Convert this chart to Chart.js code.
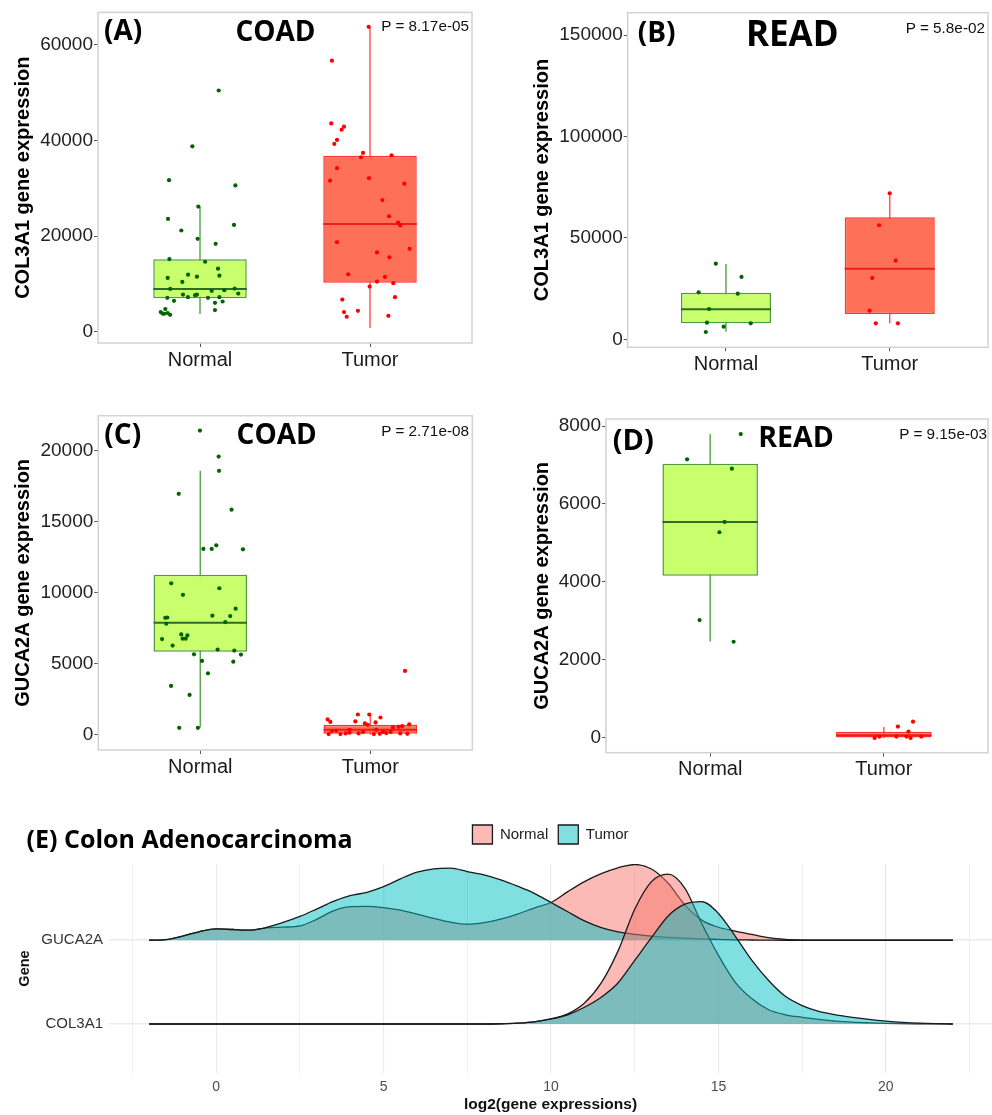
<!DOCTYPE html>
<html lang="en">
<head>
<meta charset="UTF-8">
<title>COL3A1 and GUCA2A expression</title>
<style>
  body { margin: 0; background: #fff; }
  #page { position: relative; width: 992px; height: 1115px; overflow: hidden; font-family: "Liberation Sans", Arial, sans-serif; }
  .panel { position: absolute; }
  .tag, .name { position: absolute; font-family: "Open Sans", sans-serif; font-weight: 700; color: #000; line-height: 1; white-space: nowrap; }
  .tag { transform: translate(0, -50%); }
  .name { transform: translate(-50%, -50%); }
  .pval { position: absolute; font-size: 15.3px; color: #111; line-height: 1; white-space: nowrap; transform: translate(-100%, -50%); }
</style>
</head>
<body>
<div id="page">
  <div class="panel" style="left:0;top:0;width:480px;height:385px"><canvas id="chartA"></canvas></div>
  <div class="panel" style="left:500px;top:0;width:492px;height:385px"><canvas id="chartB"></canvas></div>
  <div class="panel" style="left:0;top:400px;width:480px;height:385px"><canvas id="chartC"></canvas></div>
  <div class="panel" style="left:500px;top:400px;width:492px;height:385px"><canvas id="chartD"></canvas></div>
  <div class="panel" style="left:0;top:800px;width:992px;height:315px"><canvas id="chartE"></canvas></div>

  <div class="tag" style="left:104px;top:29px;font-size:28px">(A)</div>
  <div class="name" style="left:275.5px;top:30px;font-size:28px">COAD</div>
  <div class="pval" style="left:469px;top:26px">P = 8.17e-05</div>

  <div class="tag" style="left:637.7px;top:31px;font-size:28px">(B)</div>
  <div class="name" style="left:792.3px;top:32.3px;font-size:35px">READ</div>
  <div class="pval" style="left:985px;top:28.3px">P = 5.8e-02</div>

  <div class="tag" style="left:104.3px;top:432.5px;font-size:28px">(C)</div>
  <div class="name" style="left:276.7px;top:433.3px;font-size:28px">COAD</div>
  <div class="pval" style="left:469px;top:431.3px">P = 2.71e-08</div>

  <div class="tag" style="left:612.7px;top:437.5px;font-size:29px">(D)</div>
  <div class="name" style="left:796px;top:436px;font-size:28.5px">READ</div>
  <div class="pval" style="left:987px;top:434.3px">P = 9.15e-03</div>

  <div class="tag" style="left:26.6px;top:838px;font-size:25px">(E) Colon Adenocarcinoma</div>
</div>

<script src="https://cdn.jsdelivr.net/npm/chart.js"></script>
<script>
    var groups = ["Normal", "Tumor"];

    // (A) COL3A1, COAD
    var aTicks = [0, 20000, 40000, 60000];
    var aLow = [3740, 830];
    var aQ1 = [7060, 10300];
    var aMed = [8990, 22560];
    var aQ3 = [15160, 36760];
    var aHigh = [26170, 63680];
    var aNormalY = [50400, 38750, 31690, 30590, 26170, 23590, 22350, 21180, 19440, 18400, 15220, 14660, 13210,
        11280, 11960, 11550, 11760, 10450, 8990, 8580, 8720, 9050, 8020, 7810, 7270, 7680, 7800, 7120, 7120, 7270,
        6500, 6085, 6360, 4570, 4150, 4780, 3800, 3950, 3590, 3850];
    var aNormalJit = [0.11, -0.045, -0.182, 0.208, -0.01, -0.188, 0.2, -0.11, -0.014, 0.092, -0.18, 0.03, 0.106,
        -0.19, -0.07, -0.018, 0.114, -0.104, -0.175, 0.069, 0.143, 0.204, 0.225, -0.1, -0.071, -0.029, -0.018, -0.192, 0.047, 0.114,
        -0.153, 0.088, 0.133, 0.088, -0.231, -0.204, -0.21, -0.19, -0.176, -0.22];
    var aTumorY = [63680, 56620, 43530, 42850, 42220, 40080, 39250, 37380, 36470, 36880, 34180, 31570, 32110,
        30950, 27540, 24150, 22850, 22220, 18750, 17360, 16610, 15580, 12050, 11490, 10510, 10180, 9470, 7270,
        6770, 4150, 4420, 3180, 3380];
    var aTumorJit = [-0.008, -0.224, -0.228, -0.153, -0.167, -0.194, -0.21, -0.041, -0.053, 0.127, -0.194, -0.235, -0.006,
        0.202, 0.073, 0.112, 0.165, 0.178, -0.194, 0.233, 0.041, 0.114, -0.128, 0.088, 0.041, 0.137, -0.002, 0.147,
        -0.163, -0.153, -0.071, -0.137, 0.108];

    // (B) COL3A1, READ
    var bTicks = [0, 50000, 100000, 150000];
    var bLow = [3750, 7890];
    var bQ1 = [7890, 12480];
    var bMed = [14790, 34810];
    var bQ3 = [22980, 60160];
    var bHigh = [37130, 71990];
    var bNormalY = [37280, 30720, 23170, 22490, 14940, 8190, 7890, 6210, 3600];
    var bNormalJit = [-0.062, 0.095, -0.167, 0.072, -0.103, -0.116, 0.151, -0.014, -0.123];
    var bTumorY = [71990, 56210, 38760, 30230, 14100, 7890, 7890];
    var bTumorJit = [0.0, -0.065, 0.036, -0.107, -0.123, -0.085, 0.05];

    // (C) GUCA2A, COAD
    var cTicks = [0, 5000, 10000, 15000, 20000];
    var cLow = [520, 0];
    var cQ1 = [5857, 80];
    var cMed = [7893, 350];
    var cQ3 = [11264, 700];
    var cHigh = [18590, 1450];
    var cNormalY = [21420, 19590, 18590, 16970, 15850, 13090, 13090, 13340, 13060, 10670, 10320, 9860, 8880,
        8240, 8260, 8390, 8360, 7820, 7940, 7070, 7000, 6770, 6770, 6740, 6280, 6000, 5930, 5670, 5650, 5200,
        5150, 4330, 3440, 2810, 490, 490];
    var cNormalJit = [-0.002, 0.108, 0.11, -0.127, 0.184, 0.018, 0.067, 0.094, 0.251, -0.171, 0.112, -0.102, 0.208,
        -0.206, -0.194, 0.071, 0.176, -0.2, 0.147, -0.112, -0.076, -0.104, -0.086, -0.225, -0.163, 0.102, 0.2, -0.037, 0.239, 0.01,
        0.194, 0.045, -0.172, -0.063, -0.124, -0.014];
    var cTumorY = [4500, 1430, 1430, 1220, 1080, 910, 940, 800, 700, 870, 730, 520, 560, 610, 260, 350, 350,
        50, 50, 100, 100, 50, 70, 120, 100, 70, 150, 200, 200, 280, 200];
    var cTumorJit = [0.204, -0.073, -0.006, 0.06, -0.251, -0.235, -0.088, -0.032, -0.016, 0.031, 0.229, 0.133, 0.166, 0.188, -0.226, -0.122, 0.035,
        -0.245, -0.176, -0.145, -0.069, 0.021, 0.056, 0.094, 0.176, 0.218, -0.122, -0.043, 0.12, -0.2, 0.074];

    // (D) GUCA2A, READ
    var dTicks = [0, 2000, 4000, 6000, 8000];
    var dLow = [2474, 0];
    var dQ1 = [4156, 10];
    var dMed = [5539, 70];
    var dQ3 = [7032, 160];
    var dHigh = [7793, 280];
    var dNormalY = [7793, 7145, 6905, 5539, 5275, 3022, 2466];
    var dNormalJit = [0.176, -0.133, 0.125, 0.083, 0.053, -0.061, 0.135];
    var dTumorY = [417, 289, 161, 0, 33, 33, 33, 0, 33];
    var dTumorJit = [0.168, 0.081, 0.142, -0.053, -0.025, 0.072, 0.131, 0.154, 0.216];

    // (E) density ridges, heights in row units above each gene's baseline
    var ridgeGenes = ["COL3A1", "GUCA2A"];
    var ridgeTicks = [-2.5, 0, 2.5, 5, 7.5, 10, 12.5, 15, 17.5, 20, 22.5];
    var ridgeX = [-2, -1.5, -1, -0.5, 0, 0.5, 1, 1.5, 2, 2.5, 3, 3.5, 4, 4.5, 5, 5.5, 6, 6.5, 7, 7.5, 8, 8.5,
        9, 9.5, 10, 10.5, 11, 11.5, 12, 12.5, 13, 13.5, 14, 14.5, 15, 15.5, 16, 16.5, 17, 17.5, 18, 18.5, 19,
        19.5, 20, 20.5, 21, 21.5, 22];
    var gucaNormal = [0, 0.008, 0.05, 0.1, 0.135, 0.128, 0.12, 0.148, 0.156, 0.17, 0.25, 0.35, 0.4, 0.405, 0.39,
        0.36, 0.312, 0.26, 0.215, 0.192, 0.21, 0.252, 0.312, 0.384, 0.45, 0.58, 0.7, 0.795, 0.865, 0.904, 0.85,
        0.68, 0.42, 0.24, 0.155, 0.11, 0.07, 0.03, 0.01, 0.002, 0, 0, 0, 0, 0, 0, 0, 0, 0];
    var gucaTumor = [0, 0.008, 0.05, 0.104, 0.136, 0.128, 0.12, 0.152, 0.212, 0.284, 0.372, 0.464, 0.532, 0.572,
        0.64, 0.732, 0.812, 0.852, 0.86, 0.82, 0.78, 0.72, 0.645, 0.56, 0.45, 0.34, 0.23, 0.15, 0.1, 0.07, 0.05,
        0.035, 0.025, 0.015, 0.01, 0.005, 0.003, 0.001, 0, 0, 0, 0, 0, 0, 0, 0, 0, 0, 0];
    var colNormal = [0, 0, 0, 0, 0, 0, 0, 0, 0, 0, 0, 0, 0, 0, 0, 0, 0, 0, 0, 0, 0, 0.003, 0.01, 0.025, 0.06,
        0.12, 0.25, 0.49, 0.87, 1.37, 1.7, 1.79, 1.62, 1.2, 0.82, 0.5, 0.3, 0.17, 0.11, 0.08, 0.055, 0.035,
        0.022, 0.014, 0.008, 0.004, 0.002, 0.001, 0];
    var colTumor = [0, 0, 0, 0, 0, 0, 0, 0, 0, 0, 0, 0, 0, 0, 0, 0, 0, 0, 0, 0, 0, 0.003, 0.01, 0.025, 0.06,
        0.11, 0.2, 0.32, 0.49, 0.76, 1.03, 1.29, 1.43, 1.46, 1.32, 1.05, 0.76, 0.52, 0.33, 0.22, 0.15, 0.11,
        0.08, 0.055, 0.035, 0.02, 0.01, 0.004, 0];

    Chart.defaults.font.family = '"Liberation Sans", Arial, sans-serif';
    Chart.defaults.animation = false;
    Chart.defaults.events = [];

    // grey frame round the plotting area
    var framePlugin = {
        id: "frame",
        afterDatasetsDraw: function (chart, args, opts) {
            if (!opts.color) return;
            var a = chart.chartArea, ctx = chart.ctx;
            ctx.save();
            ctx.strokeStyle = opts.color;
            ctx.lineWidth = opts.width;
            ctx.strokeRect(a.left, a.top, a.right - a.left, a.bottom - a.top);
            ctx.restore();
        }
    };

    // median line across each box, drawn right after the boxes
    var medianPlugin = {
        id: "median",
        afterDatasetDraw: function (chart, args, opts) {
            if (!opts.values || args.meta.type !== "bar") return;
            var ctx = chart.ctx, y = chart.scales.y;
            args.meta.data.forEach(function (bar, i) {
                var half = bar.width / 2;
                var py = y.getPixelForValue(opts.values[i]);
                ctx.save();
                ctx.strokeStyle = opts.colors[i];
                ctx.lineWidth = 2;
                ctx.beginPath();
                ctx.moveTo(bar.x - half, py);
                ctx.lineTo(bar.x + half, py);
                ctx.stroke();
                ctx.restore();
            });
        }
    };

    function boxPanel(id, p) {
        var whisker = ["#62a655", "#ff5a5a"];
        var datasets = [];

        for (var g = 0; g < groups.length; g++) {
            datasets.push({
                type: "line",
                data: [{x: g + 1, y: p.low[g]}, {x: g + 1, y: p.high[g]}],
                borderColor: whisker[g],
                borderWidth: 1.5,
                pointRadius: 0,
                fill: false,
                order: 3
            });
        }

        datasets.push({
            type: "bar",
            data: groups.map(function (n, g) { return {x: g + 1, y: [p.q1[g], p.q3[g]]}; }),
            backgroundColor: ["#c9ff6c", "#ff7058"],
            borderColor: ["#4f9a3c", "#ff3030"],
            borderWidth: 1.5,
            borderSkipped: false,
            grouped: false,
            barPercentage: 0.55,
            categoryPercentage: 1,
            order: 2
        });

        datasets.push({
            type: "scatter",
            data: p.normalY.map(function (v, i) { return {x: 1 + p.normalJit[i], y: v}; }),
            pointBackgroundColor: "#006400",
            pointBorderWidth: 0,
            pointRadius: 2.1,
            order: 1
        });
        datasets.push({
            type: "scatter",
            data: p.tumorY.map(function (v, i) { return {x: 2 + p.tumorJit[i], y: v}; }),
            pointBackgroundColor: "#ff0000",
            pointBorderWidth: 0,
            pointRadius: 2.1,
            order: 1
        });

        new Chart(document.getElementById(id), {
            type: "scatter",
            data: {datasets: datasets},
            options: {
                responsive: true,
                maintainAspectRatio: false,
                layout: {padding: {top: p.padTop, right: p.padRight, left: 0, bottom: 0}},
                plugins: {
                    legend: {display: false},
                    tooltip: {enabled: false},
                    frame: {color: "#d2d2d2", width: 1.5},
                    median: {values: p.med, colors: ["#2e6b27", "#ee1c1c"]}
                },
                scales: {
                    x: {
                        type: "linear",
                        min: 0.4,
                        max: 2.6,
                        offset: false,
                        afterBuildTicks: function (s) { s.ticks = groups.map(function (n, i) { return {value: i + 1}; }); },
                        afterFit: function (s) { s.height = p.xHeight; },
                        ticks: {
                            callback: function (v) { return groups[v - 1]; },
                            color: "#1a1a1a",
                            font: {size: 20},
                            padding: 1,
                            maxRotation: 0,
                            autoSkip: false
                        },
                        grid: {offset: false, drawOnChartArea: false, tickLength: 4, tickColor: "#555"},
                        border: {display: false}
                    },
                    y: {
                        type: "linear",
                        min: p.yMin,
                        max: p.yMax,
                        afterBuildTicks: function (s) { s.ticks = p.ticks.map(function (v) { return {value: v}; }); },
                        afterFit: function (s) { s.width = p.yWidth; },
                        ticks: {
                            callback: function (v) { return String(v); },
                            color: "#222",
                            font: {size: 19},
                            padding: 1
                        },
                        grid: {drawOnChartArea: false, tickLength: 4, tickColor: "#555"},
                        border: {display: false},
                        title: {
                            display: true,
                            text: p.yTitle,
                            color: "#000",
                            font: {size: 20, weight: "bold"},
                            padding: {top: p.titlePad, bottom: 0}
                        }
                    }
                }
            },
            plugins: [framePlugin, medianPlugin]
        });
    }

    boxPanel("chartA", {
        ticks: aTicks, low: aLow, q1: aQ1, med: aMed, q3: aQ3, high: aHigh,
        normalY: aNormalY, normalJit: aNormalJit, tumorY: aTumorY, tumorJit: aTumorJit,
        yMin: -2300, yMax: 66700, yTitle: "COL3A1 gene expression",
        padTop: 11, padRight: 8, yWidth: 98, xHeight: 42, titlePad: 11
    });
    boxPanel("chartB", {
        ticks: bTicks, low: bLow, q1: bQ1, med: bMed, q3: bQ3, high: bHigh,
        normalY: bNormalY, normalJit: bNormalJit, tumorY: bTumorY, tumorJit: bTumorJit,
        yMin: -3950, yMax: 161000, yTitle: "COL3A1 gene expression",
        padTop: 12.7, padRight: 0, yWidth: 127.7, xHeight: 37.7, titlePad: 30.7
    });
    boxPanel("chartC", {
        ticks: cTicks, low: cLow, q1: cQ1, med: cMed, q3: cQ3, high: cHigh,
        normalY: cNormalY, normalJit: cNormalJit, tumorY: cTumorY, tumorJit: cTumorJit,
        yMin: -1070, yMax: 22470, yTitle: "GUCA2A gene expression",
        padTop: 15.7, padRight: 7.7, yWidth: 98.3, xHeight: 35, titlePad: 11.3
    });
    boxPanel("chartD", {
        ticks: dTicks, low: dLow, q1: dQ1, med: dMed, q3: dQ3, high: dHigh,
        normalY: dNormalY, normalJit: dNormalJit, tumorY: dTumorY, tumorJit: dTumorJit,
        yMin: -380, yMax: 8180, yTitle: "GUCA2A gene expression",
        padTop: 19, padRight: 0, yWidth: 106, xHeight: 32.3, titlePad: 30.7
    });

    // ridgeline densities: GUCA2A row sits at 2, COL3A1 row at 1
    function ridge(label, heights, base, fill, order) {
        return {
            type: "line",
            label: label,
            data: ridgeX.map(function (x, i) { return {x: x, y: base + heights[i]}; }),
            fill: {value: base},
            backgroundColor: fill,
            borderColor: "#1a1a1a",
            borderWidth: 1.3,
            pointRadius: 0,
            cubicInterpolationMode: "monotone",
            order: order
        };
    }

    var normalFill = "rgba(248, 118, 109, 0.5)";
    var tumorFill = "rgba(0, 191, 196, 0.5)";

    new Chart(document.getElementById("chartE"), {
        type: "line",
        data: {
            datasets: [
                ridge("Normal", gucaNormal, 2, normalFill, 4),
                ridge("Tumor", gucaTumor, 2, tumorFill, 3),
                ridge("Normal", colNormal, 1, normalFill, 2),
                ridge("Tumor", colTumor, 1, tumorFill, 1)
            ]
        },
        options: {
            responsive: true,
            maintainAspectRatio: false,
            layout: {padding: {top: 15, right: 0, left: 0, bottom: 0}},
            plugins: {
                tooltip: {enabled: false},
                legend: {
                    display: true,
                    position: "top",
                    fullSize: false,
                    labels: {
                        filter: function (item) { return item.datasetIndex < 2; },
                        sort: function (a, b) { return a.datasetIndex - b.datasetIndex; },
                        boxWidth: 20,
                        boxHeight: 19,
                        padding: 10,
                        color: "#222",
                        font: {size: 15}
                    }
                }
            },
            scales: {
                x: {
                    type: "linear",
                    min: -3.2,
                    max: 23.17,
                    afterBuildTicks: function (s) { s.ticks = ridgeTicks.map(function (v) { return {value: v}; }); },
                    afterFit: function (s) { s.height = 42; },
                    ticks: {
                        callback: function (v) { return v % 5 === 0 ? String(v) : ""; },
                        color: "#4d4d4d",
                        font: {size: 14},
                        padding: 6,
                        maxRotation: 0,
                        autoSkip: false
                    },
                    grid: {
                        color: "#ebebeb",
                        lineWidth: function (c) { return c.tick && c.tick.value % 5 === 0 ? 1.2 : 0.8; },
                        drawTicks: false
                    },
                    border: {display: false},
                    title: {
                        display: true,
                        text: "log2(gene expressions)",
                        color: "#111",
                        font: {size: 15.5, weight: "bold"},
                        padding: {top: 0, bottom: 1}
                    }
                },
                xTop: {
                    type: "linear",
                    position: "top",
                    display: true,
                    afterFit: function (s) { s.height = 10; },
                    ticks: {display: false},
                    grid: {display: false},
                    border: {display: false}
                },
                y: {
                    type: "linear",
                    min: 0.415,
                    max: 2.91,
                    afterBuildTicks: function (s) { s.ticks = ridgeGenes.map(function (n, i) { return {value: i + 1}; }); },
                    afterFit: function (s) { s.width = 109; },
                    ticks: {
                        callback: function (v) { return ridgeGenes[v - 1]; },
                        color: "#333",
                        font: {size: 15},
                        padding: 6
                    },
                    grid: {color: "#ebebeb", lineWidth: 1.5, drawTicks: false},
                    border: {display: false},
                    title: {
                        display: true,
                        text: "Gene",
                        color: "#111",
                        font: {size: 14.5, weight: "bold"},
                        padding: {top: 16, bottom: 0}
                    }
                }
            }
        }
    });
</script>
</body>
</html>
